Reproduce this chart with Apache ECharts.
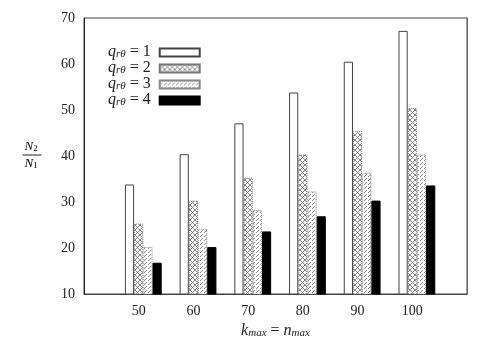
<!DOCTYPE html>
<html style="height: 100%">
<head>
<meta charset="utf-8">
</head>
<body style="height: 100%; margin: 0; background: #fff">
<div id="container" style="width: 491px; height: 344px"></div>
<script type="text/javascript" src="https://cdn.jsdelivr.net/npm/echarts@6/dist/echarts.min.js"></script>
<script type="text/javascript">
// k_max = n_max categories, padded with empty slots on both ends
var kmax = ['', '50', '60', '70', '80', '90', '100', ''];
var q1 = [null, 33.8, 40.4, 47.1, 53.8, 60.5, 67.2, null];
var q2 = [null, 25.3, 30.3, 35.3, 40.3, 45.4, 50.4, null];
var q3 = [null, 20.2, 24.2, 28.3, 32.3, 36.3, 40.3, null];
var q4 = [null, 16.8, 20.2, 23.6, 26.9, 30.3, 33.6, null];
var yTicks = [10, 70, 10]; // min, max, step

var serif = 'Liberation Serif';

function pattern(kind) {
    var c = document.createElement('canvas');
    var ctx = c.getContext('2d');
    if (kind === 'cross') {
        c.width = 5; c.height = 5;
        ctx.fillStyle = '#fff';
        ctx.fillRect(0, 0, 5, 5);
        ctx.strokeStyle = '#6a6a6a';
        ctx.lineWidth = 0.8;
        ctx.beginPath();
        ctx.moveTo(0, 0); ctx.lineTo(5, 5);
        ctx.moveTo(5, 0); ctx.lineTo(0, 5);
        ctx.stroke();
    } else {
        c.width = 4; c.height = 4;
        ctx.fillStyle = '#fff';
        ctx.fillRect(0, 0, 4, 4);
        ctx.fillStyle = '#8a8a8a';
        ctx.fillRect(0, 0, 1, 1);
        ctx.fillRect(2, 2, 1, 1);
        ctx.fillRect(1, 3, 1, 1);
    }
    return {image: c, repeat: 'repeat'};
}

var rich = {
    i: {fontFamily: serif, fontStyle: 'italic', fontSize: 16, color: '#222', verticalAlign: 'bottom', lineHeight: 15},
    s: {fontFamily: serif, fontStyle: 'italic', fontSize: 11, color: '#222', verticalAlign: 'bottom', lineHeight: 8},
    n: {fontFamily: serif, fontSize: 16, color: '#222', verticalAlign: 'bottom', lineHeight: 15}
};

var names = ['1', '2', '3', '4'];
var styles = [
    {color: '#fff', borderColor: '#444', borderWidth: 1},
    {color: pattern('cross'), borderColor: '#777', borderWidth: 1, borderType: 'dotted'},
    {color: pattern('dots'), borderColor: '#888', borderWidth: 1, borderType: 'dotted'},
    {color: '#000', borderColor: '#000', borderWidth: 1}
];
var values = [q1, q2, q3, q4];

var dom = document.getElementById('container');
var myChart = echarts.init(dom, null, {renderer: 'canvas'});

var series = [{
    // empty slot so the group sits right of the tick label, as in the original
    name: 'spacer', type: 'bar', data: [], barWidth: 9.2, barGap: '0%', silent: true
}];
for (var i = 0; i < 4; i++) {
    series.push({
        name: names[i],
        type: 'bar',
        data: values[i],
        barWidth: 9.2,
        barGap: '0%',
        itemStyle: styles[i],
        emphasis: {disabled: true}
    });
}

var option = {
    animation: false,
    grid: {left: 84, right: 24, top: 18, bottom: 50, show: true, borderColor: '#444', borderWidth: 1},
    legend: {
        data: names,
        orient: 'vertical',
        left: 103,
        top: 39,
        align: 'right',
        itemWidth: 40,
        itemHeight: 8,
        itemGap: 0,
        icon: 'rect',
        selectedMode: false,
        formatter: function (n) { return '{i|q}{s|rθ}{n| = ' + n + '}'; },
        textStyle: {rich: rich, padding: [0, 4, 0, 0]}
    },
    xAxis: {
        type: 'category',
        data: kmax,
        boundaryGap: false,
        axisLine: {lineStyle: {color: '#444'}},
        axisTick: {show: false},
        axisLabel: {interval: 0, margin: 10, fontFamily: serif, fontSize: 14, color: '#222'},
        name: '{i|k}{s|max}{n| = }{i|n}{s|max}',
        nameLocation: 'middle',
        nameGap: 28,
        nameTextStyle: {rich: rich}
    },
    yAxis: [{
        type: 'value',
        min: yTicks[0], max: yTicks[1], interval: yTicks[2],
        axisLine: {show: true, lineStyle: {color: '#222'}},
        axisTick: {inside: true, length: 5, lineStyle: {color: '#444'}},
        splitLine: {show: false},
        axisLabel: {margin: 9, fontFamily: serif, fontSize: 14, color: '#222'}
    }, {
        type: 'value',
        position: 'right',
        min: yTicks[0], max: yTicks[1], interval: yTicks[2],
        axisLine: {show: true, lineStyle: {color: '#666'}},
        axisTick: {inside: true, length: 5, lineStyle: {color: '#444'}},
        splitLine: {show: false},
        axisLabel: {show: false}
    }],
    graphic: [{
        type: 'group',
        left: 20,
        top: 140,
        children: [
            {type: 'text', x: 2, y: 0, style: {text: '{i|N}{s|2}', rich: {
                i: {fontFamily: serif, fontStyle: 'italic', fontSize: 13, color: '#222', verticalAlign: 'bottom', lineHeight: 14},
                s: {fontFamily: serif, fontSize: 9, color: '#222', verticalAlign: 'bottom', lineHeight: 8}}}},
            {type: 'line', shape: {x1: 0, y1: 16, x2: 19, y2: 16}, style: {stroke: '#222', lineWidth: 1}},
            {type: 'text', x: 2, y: 17, style: {text: '{i|N}{s|1}', rich: {
                i: {fontFamily: serif, fontStyle: 'italic', fontSize: 13, color: '#222', verticalAlign: 'bottom', lineHeight: 14},
                s: {fontFamily: serif, fontSize: 9, color: '#222', verticalAlign: 'bottom', lineHeight: 8}}}}
        ]
    }],
    series: series
};

myChart.setOption(option);
</script>
</body>
</html>
